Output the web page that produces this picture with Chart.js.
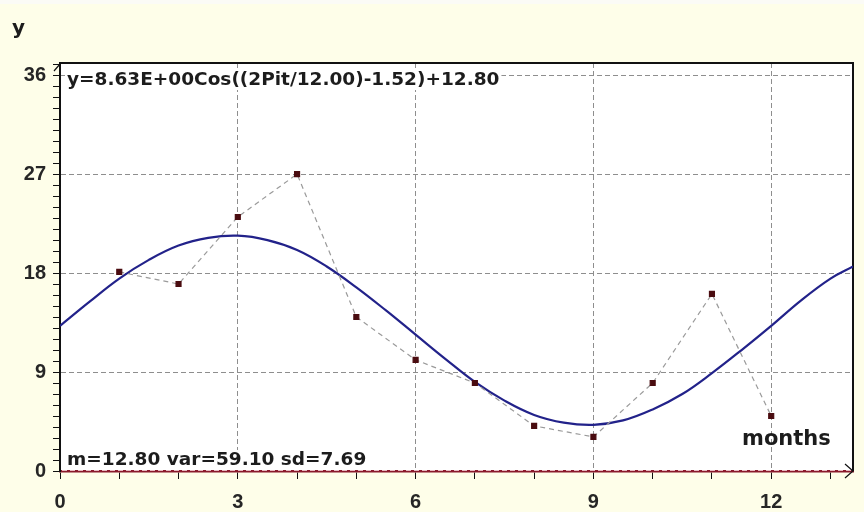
<!DOCTYPE html>
<html>
<head>
<meta charset="utf-8">
<title>Monthly values with cosine fit</title>
<script src="https://cdn.jsdelivr.net/npm/chart.js@4/dist/chart.umd.min.js"></script>
<style>
  html, body { margin: 0; padding: 0; background: #fefee9; }
  canvas { display: block; }
</style>
</head>
<body>
<canvas id="fit-chart" width="864" height="512"></canvas>
<script>
// ── Data ──────────────────────────────────────────────────────

const months = [1, 2, 3, 4, 5, 6, 7, 8, 9, 10, 11, 12];
const observed = [18.1, 17.0, 23.1, 27.0, 14.0, 10.1, 8.0, 4.1, 3.1, 8.0, 16.1, 5.0];

// fitted cosine
const fitT = [0, 0.5, 1, 1.5, 2, 2.5, 3, 3.5, 4, 4.5, 5, 5.5, 6, 6.5, 7,
  7.5, 8, 8.5, 9, 9.5, 10, 10.5, 11, 11.5, 12, 12.5, 13, 13.38];
const fitY = [13.2, 15.4, 17.5, 19.2, 20.5, 21.2, 21.4, 21.0, 20.1, 18.6, 16.7, 14.6, 12.4, 10.2, 8.1,
  6.4, 5.1, 4.4, 4.2, 4.6, 5.6, 7.0, 8.9, 11.0, 13.2, 15.5, 17.5, 18.6];

const xMax = 13.38;
const yMax = 37.1;
const xLabelStep = 3;
const yLabelStep = 9;

const equationText = 'y=8.63E+00Cos((2Pit/12.00)-1.52)+12.80';
const statsText = 'm=12.80 var=59.10 sd=7.69';

// ── Helpers ──────────────────────────────────────────────────

const GRID_GREY = '#8e8e8e';
const NOTE_FONT = 'bold 18.5px "DejaVu Sans", Verdana, sans-serif';
const TICK_FONT = { family: '"Liberation Sans", Arial, sans-serif', size: 20, weight: 'bold' };

function _boxedText(ctx, text, x, baseline) {
  ctx.font = NOTE_FONT;
  const w = ctx.measureText(text).width;
  ctx.fillStyle = '#ffffff';
  ctx.fillRect(x - 2, baseline - 15, w + 4, 20);
  ctx.fillStyle = '#1c1c1c';
  ctx.textBaseline = 'alphabetic';
  ctx.textAlign = 'left';
  ctx.fillText(text, x, baseline);
}

const framePlugin = {
  id: 'frame',
  beforeDraw(chart) {
    const { ctx, chartArea: a, width, height } = chart;
    ctx.save();
    ctx.fillStyle = '#fefee9';
    ctx.fillRect(0, 0, width, height);
    ctx.fillStyle = '#fbfbf6';
    ctx.fillRect(0, 0, width, 4);
    ctx.fillStyle = '#ffffff';
    ctx.fillRect(a.left, a.top, a.right - a.left, a.bottom - a.top);
    ctx.restore();
  },
  beforeDatasetsDraw(chart) {
    const { ctx, chartArea: a } = chart;
    ctx.save();
    // top and right edges of the plot box
    ctx.strokeStyle = '#111111';
    ctx.lineWidth = 2;
    ctx.beginPath();
    ctx.moveTo(a.left, a.top);
    ctx.lineTo(a.right, a.top);
    ctx.lineTo(a.right, a.bottom);
    ctx.stroke();

    // pale dashes over the red zero line
    ctx.strokeStyle = 'rgba(255,225,230,0.8)';
    ctx.lineWidth = 1;
    ctx.setLineDash([5, 3]);
    ctx.beginPath();
    ctx.moveTo(a.left + 2, a.bottom - 0.5);
    ctx.lineTo(a.right - 2, a.bottom - 0.5);
    ctx.stroke();
    ctx.setLineDash([]);

    // axis arrow heads
    ctx.strokeStyle = '#111111';
    ctx.lineWidth = 1.2;
    ctx.beginPath();
    ctx.moveTo(a.left - 6, a.top + 8);
    ctx.lineTo(a.left, a.top + 1);
    ctx.moveTo(a.right - 8, a.bottom - 7);
    ctx.lineTo(a.right, a.bottom);
    ctx.lineTo(a.right - 8, a.bottom + 7);
    ctx.stroke();

    _boxedText(ctx, equationText, a.left + 7, a.top + 22);
    _boxedText(ctx, statsText, a.left + 7, a.bottom - 6);

    // axis titles
    ctx.fillStyle = '#1c1c1c';
    ctx.font = 'bold 20px "DejaVu Sans", Verdana, sans-serif';
    ctx.fillText('y', 12, 34);
    ctx.font = 'bold 21px "DejaVu Sans", Verdana, sans-serif';
    ctx.fillText('months', 742, 445);
    ctx.restore();
  },
};

// ── Chart ────────────────────────────────────────────────────

const ctx = document.getElementById('fit-chart').getContext('2d');
new Chart(ctx, {
  type: 'line',
  data: {
    datasets: [
      {
        label: 'Observed',
        data: months.map((m, i) => ({ x: m, y: observed[i] })),
        borderColor: '#9a9a9a',
        borderWidth: 1.2,
        borderDash: [5, 4],
        pointStyle: 'rect',
        pointRadius: 3.5,
        pointBackgroundColor: '#4a0c10',
        pointBorderColor: '#4a0c10',
        tension: 0,
      },
      {
        label: 'Cosine fit',
        data: fitT.map((t, i) => ({ x: t, y: fitY[i] })),
        borderColor: '#22228a',
        borderWidth: 2.2,
        pointRadius: 0,
        tension: 0.4,
      },
    ],
  },
  options: {
    responsive: false,
    animation: false,
    layout: { padding: { top: 63, right: 11, left: 0, bottom: 0 } },
    plugins: { legend: { display: false }, tooltip: { enabled: false } },
    scales: {
      x: {
        type: 'linear',
        min: 0,
        max: xMax,
        afterFit: (s) => { s.height = 41; },
        ticks: {
          stepSize: 1,
          autoSkip: false,
          includeBounds: false,
          maxRotation: 0,
          padding: 11,
          color: '#262626',
          font: TICK_FONT,
          callback: (v) => (v % xLabelStep === 0 ? v : ''),
        },
        grid: {
          color: (c) => (c.tick && c.tick.value > 0 && c.tick.value % xLabelStep === 0 ? GRID_GREY : 'transparent'),
          tickColor: '#111111',
          tickLength: 8,
          lineWidth: 1,
        },
        border: { color: '#8a1a2c', width: 2.5, dash: [5, 3] },
      },
      y: {
        min: 0,
        max: yMax,
        afterFit: (s) => { s.width = 60; },
        ticks: {
          stepSize: 1,
          autoSkip: false,
          includeBounds: false,
          padding: 7,
          color: '#262626',
          font: TICK_FONT,
          callback: (v) => (v % yLabelStep === 0 ? v : ''),
        },
        grid: {
          color: (c) => (c.tick && c.tick.value > 0 && c.tick.value % yLabelStep === 0 ? GRID_GREY : 'transparent'),
          tickColor: '#111111',
          tickLength: 7,
          lineWidth: 1,
        },
        border: { color: '#111111', width: 2, dash: [5, 3] },
      },
    },
  },
  plugins: [framePlugin],
});
</script>
</body>
</html>
